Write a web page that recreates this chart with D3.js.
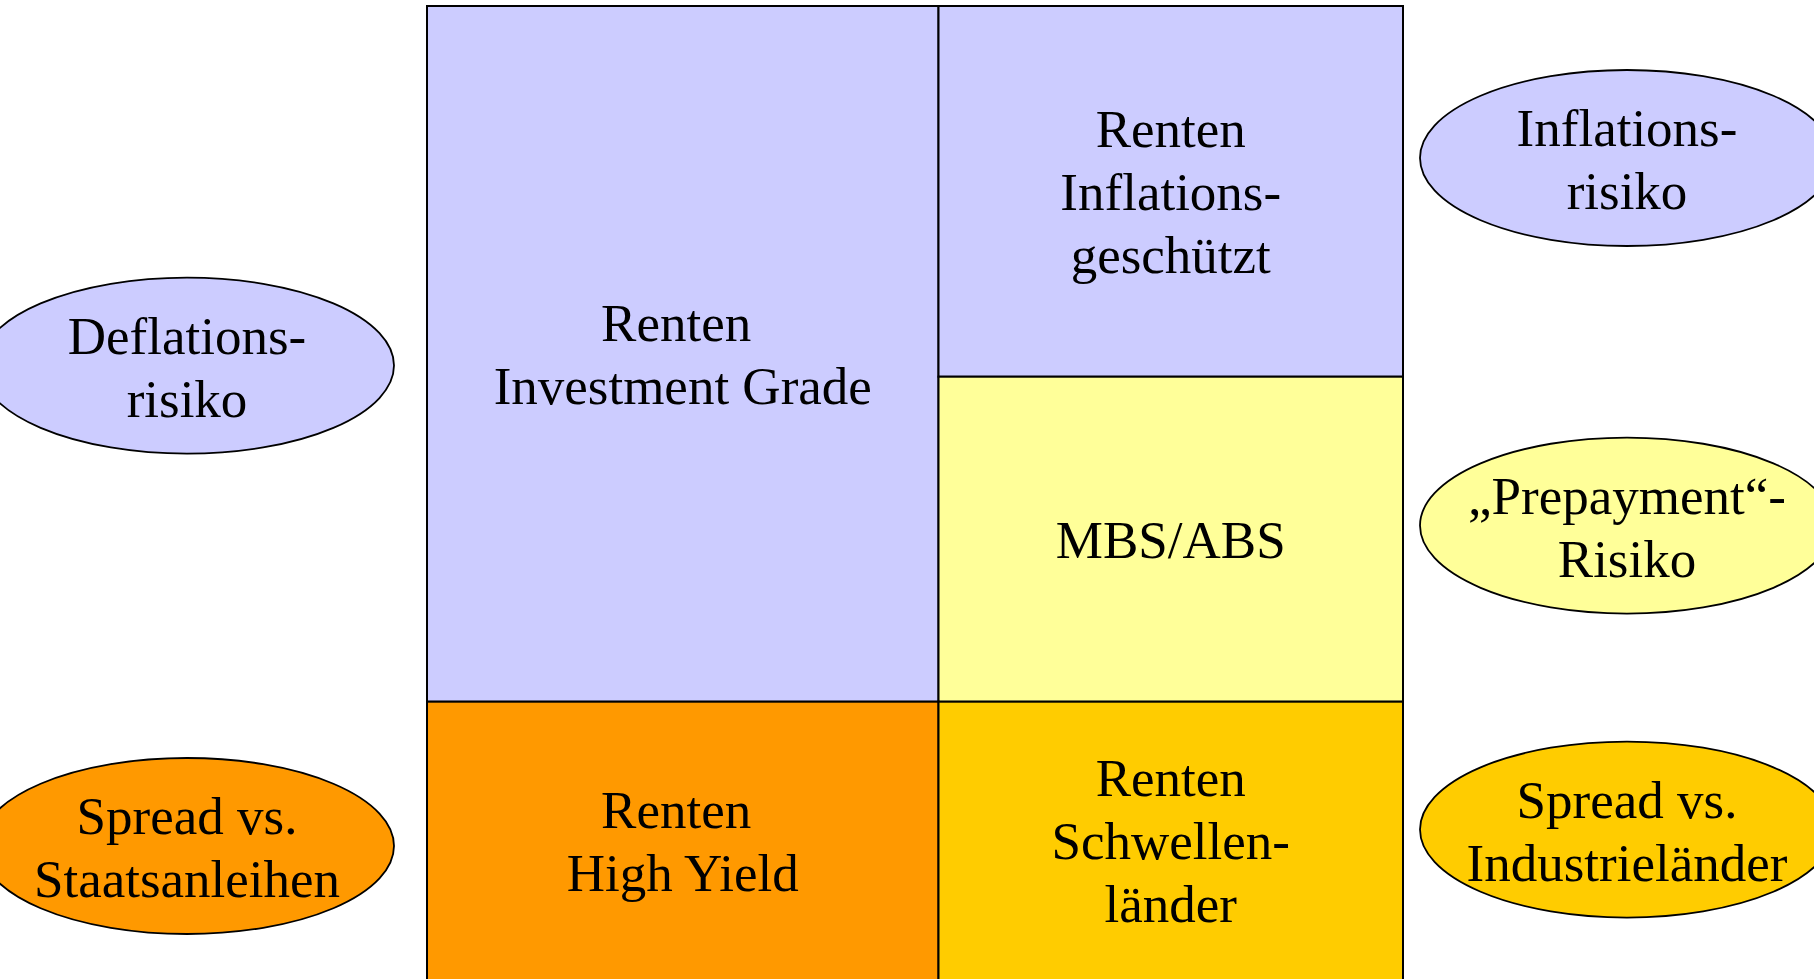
<!DOCTYPE html>
<html>
<head>
<meta charset="utf-8">
<script src="https://cdn.jsdelivr.net/npm/d3@7"></script>
<style>
  html, body { margin: 0; padding: 0; background: #fff; overflow: hidden; }
  text { font-family: "Liberation Serif", "Times New Roman", serif; fill: #000; white-space: pre; }
</style>
</head>
<body>
<div id="chart"></div>
<script>
// Segmente des Rentenportfolios
var segmente = ["Renten Investment Grade", "Renten Inflationsgeschützt", "MBS/ABS", "Renten High Yield", "Renten Schwellenländer"];
var segmentZeilen = [["Renten ", "Investment Grade"], ["Renten", "Inflations-", "geschützt"], ["MBS/ABS"], ["Renten ", "High Yield"], ["Renten", "Schwellen-", "länder"]];
var segmentSpalte = ["links", "rechts", "rechts", "links", "rechts"];
var segmentVon = [0, 0, 0.381, 0.715, 0.715];   // Anteil der Höhe
var segmentBis = [0.715, 0.381, 0.715, 1, 1];
var segmentFarbe = ["#CCCCFF", "#CCCCFF", "#FFFF99", "#FF9900", "#FFCC00"];

// Risiken
var risiken = [["Deflations-", "risiko"], ["Spread vs.", "Staatsanleihen"], ["Inflations-", "risiko"], ["„Prepayment“-", "Risiko"], ["Spread vs.", "Industrieländer"]];
var risikoSeite = ["links", "links", "rechts", "rechts", "rechts"];
var risikoLage = [0.3696, 0.8633, 0.1562, 0.534, 0.8464];
var risikoFarbe = ["#CCCCFF", "#FF9900", "#CCCCFF", "#FFFF99", "#FFCC00"];

function init(){

var w = 1814;
var h = 979;
var fs = 53;
var lh = 63;

var svg = d3.select("#chart")
    .append("svg")
    .attr("width", w)
    .attr("height", h);

var y = d3.scaleLinear().domain([0, 1]).range([6, 979]);
var spalteX0 = d3.scaleOrdinal().domain(["links", "rechts"]).range([427, 938.5]);
var spalteX1 = d3.scaleOrdinal().domain(["links", "rechts"]).range([938.5, 1403]);
var seiteX = d3.scaleOrdinal().domain(["links", "rechts"]).range([187, 1627]);

var felder = segmente.map(function(s, i){
    return { name: s, zeilen: segmentZeilen[i], spalte: segmentSpalte[i], von: segmentVon[i], bis: segmentBis[i], farbe: segmentFarbe[i] };
});

var g = svg.selectAll("g.feld")
    .data(felder)
    .enter()
    .append("g")
    .attr("class", "feld");

// unterste Zeile läuft aus dem Bild, also ohne sichtbare Unterkante
g.append("rect")
    .attr("x", function(d){ return spalteX0(d.spalte); })
    .attr("y", function(d){ return y(d.von); })
    .attr("width", function(d){ return spalteX1(d.spalte) - spalteX0(d.spalte); })
    .attr("height", function(d){ return y(d.bis) - y(d.von) + (d.bis === 1 ? 6 : 0); })
    .attr("fill", function(d){ return d.farbe; })
    .attr("stroke", "#000")
    .attr("stroke-width", 2);

g.each(function(d){
    var cx = (spalteX0(d.spalte) + spalteX1(d.spalte)) / 2;
    var cy = (y(d.von) + y(d.bis)) / 2;
    var n = d.zeilen.length;
    d3.select(this).selectAll("text")
        .data(d.zeilen)
        .enter()
        .append("text")
        .attr("x", cx)
        .attr("y", function(t, i){ return cy + (i - (n - 1) / 2) * lh + 19; })
        .attr("text-anchor", "middle")
        .attr("font-size", fs)
        .text(function(t){ return t; });
});

var blasen = risiken.map(function(r, i){
    return { zeilen: r, seite: risikoSeite[i], lage: risikoLage[i], farbe: risikoFarbe[i] };
});

var b = svg.selectAll("g.risiko")
    .data(blasen)
    .enter()
    .append("g")
    .attr("class", "risiko");

b.append("ellipse")
    .attr("cx", function(d){ return seiteX(d.seite); })
    .attr("cy", function(d){ return y(d.lage); })
    .attr("rx", 207)
    .attr("ry", 88)
    .attr("fill", function(d){ return d.farbe; })
    .attr("stroke", "#000")
    .attr("stroke-width", 1.8);

b.each(function(d){
    var cx = seiteX(d.seite);
    var cy = y(d.lage);
    var n = d.zeilen.length;
    d3.select(this).selectAll("text")
        .data(d.zeilen)
        .enter()
        .append("text")
        .attr("x", cx)
        .attr("y", function(t, i){ return cy + (i - (n - 1) / 2) * lh + 20; })
        .attr("text-anchor", "middle")
        .attr("font-size", fs)
        .text(function(t){ return t; });
});

}

window.onload = init;
</script>
</body>
</html>
